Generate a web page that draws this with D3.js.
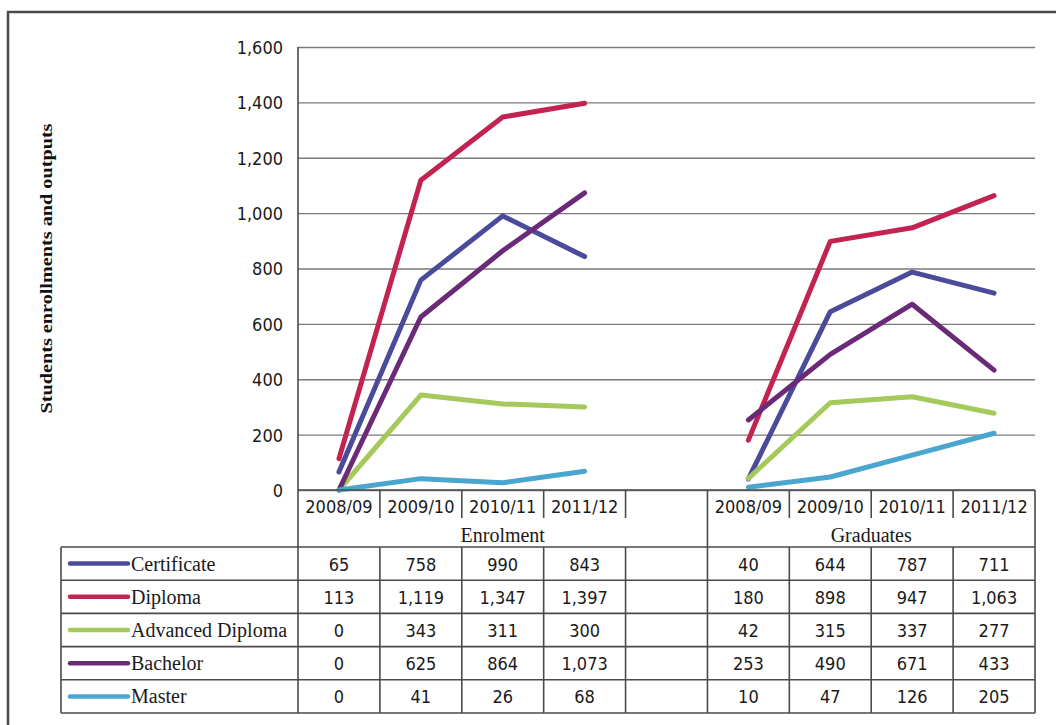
<!DOCTYPE html>
<html>
<head>
<meta charset="utf-8">
<script src="https://cdn.jsdelivr.net/npm/d3@7"></script>
<style>
  html, body { margin: 0; padding: 0; background: #fff; }
  svg { display: block; }
</style>
</head>
<body>
<script>
// Academic years shown in each group
const periods = ["2008/09", "2009/10", "2010/11", "2011/12"];
const groups = ["Enrolment", "Graduates"];
const seriesNames = ["Certificate", "Diploma", "Advanced Diploma", "Bachelor", "Master"];
const seriesColors = ["#4b4b9b", "#c22350", "#a5c95a", "#6b2a78", "#4aa6cf"];

// Student numbers per programme level
const enrolment = [
  [65, 758, 990, 843],
  [113, 1119, 1347, 1397],
  [0, 343, 311, 300],
  [0, 625, 864, 1073],
  [0, 41, 26, 68]
];
const graduates = [
  [40, 644, 787, 711],
  [180, 898, 947, 1063],
  [42, 315, 337, 277],
  [253, 490, 671, 433],
  [10, 47, 126, 205]
];
const yTicks = [0, 200, 400, 600, 800, 1000, 1200, 1400, 1600];

const W = 1056, H = 725;
const plot = { left: 298, right: 1035, top: 47, bottom: 490 };
const tableTop = 547, rowH = 33.2, tableLeft = 61;
const SANS = "'DejaVu Sans Condensed', 'DejaVu Sans', sans-serif";
const SERIF = "'Liberation Serif', 'Times New Roman', serif";
const gridColor = "#7a7a7a", frameColor = "#4a4a4a", textColor = "#1a1a1a";

const svg = d3.select("body").append("svg").attr("width", W).attr("height", H);

// Outer frame (runs off the right and bottom edge)
svg.append("rect").attr("x", 8).attr("y", 12).attr("width", W + 20).attr("height", H + 20)
  .attr("fill", "none").attr("stroke", frameColor).attr("stroke-width", 2.5);

// Category slots: four years, an empty spacer, four years
const slots = [...periods.map(p => "E|" + p), "gap", ...periods.map(p => "G|" + p)];
const x = d3.scaleBand().domain(slots).range([plot.left, plot.right]);
const y = d3.scaleLinear().domain([0, 1600]).range([plot.bottom, plot.top]);

// Horizontal gridlines + value axis
const yAxis = d3.axisLeft(y).tickValues(yTicks).tickSize(-(plot.right - plot.left))
  .tickPadding(15).tickFormat(d3.format(","));
const gy = svg.append("g").attr("transform", `translate(${plot.left},0)`).call(yAxis);
gy.select(".domain").remove();
gy.selectAll(".tick line").attr("stroke", gridColor).attr("stroke-width", 1.4);
gy.selectAll(".tick text").attr("font-family", SANS).attr("font-size", 18)
  .attr("fill", textColor).attr("dy", "0.36em");

// Axis title
svg.append("text")
  .attr("transform", `translate(52,${(plot.top + plot.bottom) / 2}) rotate(-90)`)
  .attr("text-anchor", "middle").attr("font-family", SERIF).attr("font-weight", "bold")
  .attr("font-size", 16).attr("textLength", 290).attr("lengthAdjust", "spacingAndGlyphs")
  .attr("fill", "#111").text("Students enrollments and outputs");

// Series lines, one polyline per group
const line = d3.line().x(d => x(d.slot) + x.bandwidth() / 2).y(d => y(d.v));
const lines = svg.append("g");
seriesNames.forEach((name, i) => {
  [[enrolment[i], "E|"], [graduates[i], "G|"]].forEach(([vals, pre]) => {
    lines.append("path")
      .datum(vals.map((v, k) => ({ slot: pre + periods[k], v })))
      .attr("d", line).attr("fill", "none")
      .attr("stroke", seriesColors[i]).attr("stroke-width", 5)
      .attr("stroke-linejoin", "round").attr("stroke-linecap", "round");
  });
});

// Category axis: baseline, year labels, dividers, group labels
const frame = svg.append("g").attr("stroke", frameColor).attr("stroke-width", 1.6);
frame.append("line").attr("x1", plot.left).attr("x2", plot.right)
  .attr("y1", plot.bottom).attr("y2", plot.bottom);

const tableBottom = tableTop + rowH * seriesNames.length;
// vertical axis line down through the table
frame.append("line").attr("x1", plot.left).attr("x2", plot.left)
  .attr("y1", plot.top).attr("y2", tableBottom);

const edges = slots.map(s => x(s)).concat([plot.right]);
edges.forEach((ex, k) => {
  if (k === 0) return;
  const groupEdge = (k === 5 || k === slots.length);
  if (groupEdge) {
    frame.append("line").attr("x1", ex).attr("x2", ex).attr("y1", plot.bottom).attr("y2", tableBottom);
  } else {
    frame.append("line").attr("x1", ex).attr("x2", ex).attr("y1", plot.bottom).attr("y2", plot.bottom + 28);
    frame.append("line").attr("x1", ex).attr("x2", ex).attr("y1", tableTop).attr("y2", tableBottom);
  }
});

slots.filter(s => s !== "gap").forEach(s => {
  svg.append("text").attr("x", x(s) + x.bandwidth() / 2).attr("y", plot.bottom + 23)
    .attr("text-anchor", "middle").attr("font-family", SANS).attr("font-size", 18)
    .attr("fill", textColor).text(s.split("|")[1]);
});

const groupSpans = [[x("E|" + periods[0]), x("G|" + periods[0])], [x("G|" + periods[0]), plot.right]];
groups.forEach((g, i) => {
  svg.append("text").attr("x", (groupSpans[i][0] + groupSpans[i][1]) / 2).attr("y", plot.bottom + 52)
    .attr("text-anchor", "middle").attr("font-family", SERIF).attr("font-size", 20)
    .attr("fill", textColor).text(g);
});

// Data table
for (let r = 0; r <= seriesNames.length; r++) {
  frame.append("line").attr("x1", tableLeft).attr("x2", plot.right)
    .attr("y1", tableTop + r * rowH).attr("y2", tableTop + r * rowH);
}
frame.append("line").attr("x1", tableLeft).attr("x2", tableLeft).attr("y1", tableTop).attr("y2", tableBottom);

const fmt = d3.format(",");
seriesNames.forEach((name, i) => {
  const cy = tableTop + rowH * i + rowH / 2;
  svg.append("line").attr("x1", 70).attr("x2", 128).attr("y1", cy).attr("y2", cy)
    .attr("stroke", seriesColors[i]).attr("stroke-width", 4.5).attr("stroke-linecap", "round");
  svg.append("text").attr("x", 131).attr("y", cy + 7).attr("font-family", SERIF)
    .attr("font-size", 20).attr("fill", textColor).text(name);
  [[enrolment[i], "E|"], [graduates[i], "G|"]].forEach(([vals, pre]) => {
    vals.forEach((v, k) => {
      svg.append("text").attr("x", x(pre + periods[k]) + x.bandwidth() / 2).attr("y", cy + 7)
        .attr("text-anchor", "middle").attr("font-family", SANS).attr("font-size", 18)
        .attr("fill", textColor).text(fmt(v));
    });
  });
});
</script>
</body>
</html>
